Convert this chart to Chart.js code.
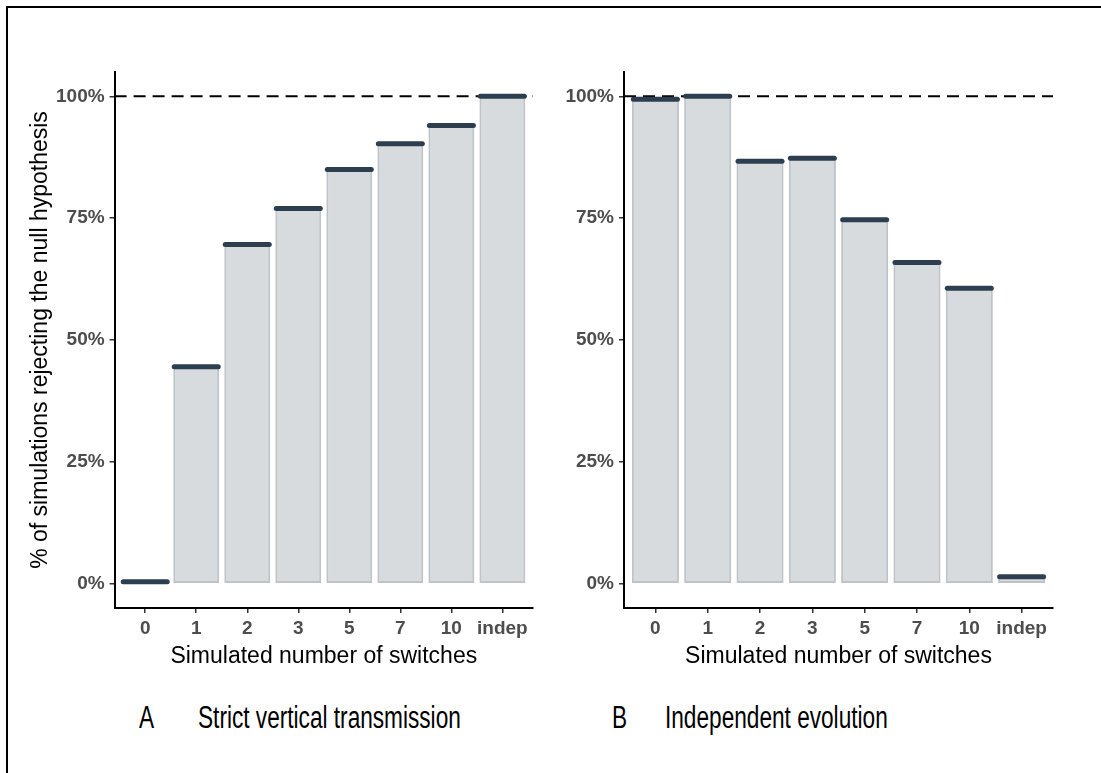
<!DOCTYPE html>
<html lang="en">
<head>
    <meta charset="UTF-8">
    <title>Simulated number of switches</title>
    <script src="https://cdn.jsdelivr.net/npm/chart.js"></script>
    <style>
        * {
            margin: 0;
            padding: 0;
            box-sizing: border-box;
        }

        html, body {
            overflow: hidden;
        }

        body {
            width: 1101px;
            height: 773px;
            background: #fff;
            position: relative;
            font-family: 'Liberation Sans', Arial, sans-serif;
        }

        .frame {
            position: absolute;
            left: 6px;
            top: 6px;
            width: 1095px;
            height: 767px;
            border-top: 2px solid #000;
            border-left: 2px solid #000;
        }

        .panel {
            position: absolute;
            top: 0;
            height: 690px;
        }

        #panelA { left: 0; width: 560px; }
        #panelB { left: 565px; width: 536px; }

        .caption {
            position: absolute;
            top: 702px;
            font-size: 31px;
            line-height: 31px;
            color: #000;
            white-space: nowrap;
            transform: scaleX(0.73);
            transform-origin: left center;
        }
    </style>
</head>
<body>
    <div class="frame"></div>
    <div class="panel" id="panelA"><canvas id="chartA"></canvas></div>
    <div class="panel" id="panelB"><canvas id="chartB"></canvas></div>

    <div class="caption" style="left:139px">A</div>
    <div class="caption" style="left:198px">Strict vertical transmission</div>
    <div class="caption" style="left:612px">B</div>
    <div class="caption" style="left:665px">Independent evolution</div>

    <script>
        const categories = ['0', '1', '2', '3', '5', '7', '10', 'indep'];
        const strictValues = [0.4, 44.5, 69.6, 77.0, 85.0, 90.3, 94.0, 100];
        const independentValues = [99.4, 100, 86.7, 87.3, 74.7, 65.9, 60.6, 1.4];
        const yTicks = [0, 25, 50, 75, 100];
        const referenceLevel = 100;

        const FONT = "'Liberation Sans', Arial, sans-serif";

        // dashed line at 100%, drawn under the bars
        const refLine = {
            id: 'refLine',
            beforeDatasetsDraw(chart) {
                const { ctx, chartArea, scales } = chart;
                const y = scales.y.getPixelForValue(referenceLevel);
                ctx.save();
                ctx.strokeStyle = '#000';
                ctx.lineWidth = 2;
                ctx.setLineDash([12, 7]);
                ctx.beginPath();
                ctx.moveTo(chartArea.left, y);
                ctx.lineTo(chartArea.right, y);
                ctx.stroke();
                ctx.restore();
                ctx.lineCap = 'round';
            }
        };

        function makeChart(id, values, showYTitle, yWidth, padding) {
            const points = values.map((v, i) => ({ x: i, y: v }));
            return new Chart(document.getElementById(id), {
                type: 'bar',
                data: {
                    datasets: [{
                        type: 'line',
                        data: points,
                        showLine: false,
                        pointStyle: 'line',
                        pointRadius: 22,
                        pointHoverRadius: 22,
                        pointBorderWidth: 5,
                        pointBorderColor: '#2c3e50',
                        pointBackgroundColor: '#2c3e50',
                        order: 0
                    }, {
                        type: 'bar',
                        data: points,
                        backgroundColor: 'rgba(189, 195, 199, 0.6)',
                        borderColor: '#bdc3c7',
                        borderWidth: 2,
                        borderSkipped: false,
                        categoryPercentage: 1,
                        barPercentage: 0.9,
                        order: 1
                    }]
                },
                options: {
                    responsive: true,
                    maintainAspectRatio: false,
                    animation: false,
                    layout: { padding: padding },
                    scales: {
                        x: {
                            type: 'linear',
                            min: -0.6,
                            max: 7.6,
                            bounds: 'data',
                            offset: false,
                            afterBuildTicks: s => { s.ticks = categories.map((c, i) => ({ value: i })); },
                            afterFit: s => { s.height = 62; },
                            ticks: {
                                callback: v => categories[v],
                                color: '#4d4d4d',
                                font: { family: FONT, size: 19, weight: 'bold' },
                                padding: 4,
                                autoSkip: false,
                                maxRotation: 0
                            },
                            grid: { offset: false, drawOnChartArea: false, tickLength: 5, color: '#333', lineWidth: 1.5 },
                            border: { display: true, color: '#000', width: 2 },
                            title: {
                                display: true,
                                text: 'Simulated number of switches',
                                color: '#000',
                                font: { family: FONT, size: 23 },
                                padding: { top: 0, bottom: 0 }
                            }
                        },
                        y: {
                            min: -5,
                            max: 105,
                            bounds: 'data',
                            afterBuildTicks: s => { s.ticks = yTicks.map(v => ({ value: v })); },
                            afterFit: s => { s.width = yWidth; },
                            ticks: {
                                callback: v => v + '%',
                                color: '#4d4d4d',
                                font: { family: FONT, size: 19, weight: 'bold' },
                                padding: 5
                            },
                            grid: { drawOnChartArea: false, tickLength: 5, color: '#333', lineWidth: 1.5 },
                            border: { display: true, color: '#000', width: 2 },
                            title: {
                                display: showYTitle,
                                text: '% of simulations rejecting the null hypothesis',
                                color: '#000',
                                font: { family: FONT, size: 23 },
                                padding: { top: 27, bottom: 0 }
                            }
                        }
                    },
                    plugins: {
                        legend: { display: false },
                        tooltip: { enabled: false }
                    }
                },
                plugins: [refLine]
            });
        }

        makeChart('chartA', strictValues, true, 114.6, { top: 72, right: 16.6, bottom: 20, left: 0 });
        makeChart('chartB', independentValues, false, 59, { top: 72, right: 48, bottom: 20, left: 0 });
    </script>
</body>
</html>
